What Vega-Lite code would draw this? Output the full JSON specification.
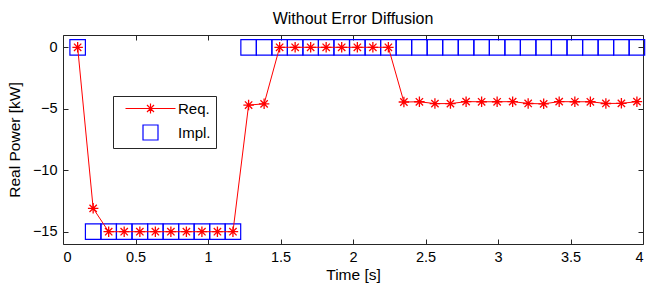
{
  "$schema": "https://vega.github.io/schema/vega-lite/v6.json",
  "width": 580,
  "height": 209,
  "autosize": {"type": "none"},
  "padding": {"left": 63, "top": 35, "right": 21, "bottom": 44},
  "background": "white",
  "title": {"text": "Without Error Diffusion", "font": "Liberation Sans", "fontSize": 16, "fontWeight": "normal", "color": "black", "anchor": "middle", "baseline": "alphabetic", "offset": -5},
  "data": {"values": [
    {"t": 0.101, "kW": 0, "series": "Req."},
    {"t": 0.208, "kW": -13.1, "series": "Req."},
    {"t": 0.315, "kW": -15, "series": "Req."},
    {"t": 0.422, "kW": -15, "series": "Req."},
    {"t": 0.530, "kW": -15, "series": "Req."},
    {"t": 0.637, "kW": -15, "series": "Req."},
    {"t": 0.744, "kW": -15, "series": "Req."},
    {"t": 0.851, "kW": -15, "series": "Req."},
    {"t": 0.958, "kW": -15, "series": "Req."},
    {"t": 1.065, "kW": -15, "series": "Req."},
    {"t": 1.172, "kW": -15, "series": "Req."},
    {"t": 1.280, "kW": -4.7, "series": "Req."},
    {"t": 1.387, "kW": -4.6, "series": "Req."},
    {"t": 1.494, "kW": 0, "series": "Req."},
    {"t": 1.601, "kW": 0, "series": "Req."},
    {"t": 1.708, "kW": 0, "series": "Req."},
    {"t": 1.815, "kW": 0, "series": "Req."},
    {"t": 1.922, "kW": 0, "series": "Req."},
    {"t": 2.030, "kW": 0, "series": "Req."},
    {"t": 2.137, "kW": 0, "series": "Req."},
    {"t": 2.244, "kW": 0, "series": "Req."},
    {"t": 2.351, "kW": -4.45, "series": "Req."},
    {"t": 2.458, "kW": -4.43, "series": "Req."},
    {"t": 2.565, "kW": -4.58, "series": "Req."},
    {"t": 2.672, "kW": -4.58, "series": "Req."},
    {"t": 2.780, "kW": -4.42, "series": "Req."},
    {"t": 2.887, "kW": -4.43, "series": "Req."},
    {"t": 2.994, "kW": -4.43, "series": "Req."},
    {"t": 3.101, "kW": -4.42, "series": "Req."},
    {"t": 3.208, "kW": -4.57, "series": "Req."},
    {"t": 3.315, "kW": -4.6, "series": "Req."},
    {"t": 3.422, "kW": -4.42, "series": "Req."},
    {"t": 3.530, "kW": -4.43, "series": "Req."},
    {"t": 3.637, "kW": -4.43, "series": "Req."},
    {"t": 3.744, "kW": -4.57, "series": "Req."},
    {"t": 3.851, "kW": -4.56, "series": "Req."},
    {"t": 3.958, "kW": -4.42, "series": "Req."},
    {"t": 0.101, "kW": 0, "series": "Impl."},
    {"t": 0.208, "kW": -15, "series": "Impl."},
    {"t": 0.315, "kW": -15, "series": "Impl."},
    {"t": 0.422, "kW": -15, "series": "Impl."},
    {"t": 0.530, "kW": -15, "series": "Impl."},
    {"t": 0.637, "kW": -15, "series": "Impl."},
    {"t": 0.744, "kW": -15, "series": "Impl."},
    {"t": 0.851, "kW": -15, "series": "Impl."},
    {"t": 0.958, "kW": -15, "series": "Impl."},
    {"t": 1.065, "kW": -15, "series": "Impl."},
    {"t": 1.172, "kW": -15, "series": "Impl."},
    {"t": 1.280, "kW": 0, "series": "Impl."},
    {"t": 1.387, "kW": 0, "series": "Impl."},
    {"t": 1.494, "kW": 0, "series": "Impl."},
    {"t": 1.601, "kW": 0, "series": "Impl."},
    {"t": 1.708, "kW": 0, "series": "Impl."},
    {"t": 1.815, "kW": 0, "series": "Impl."},
    {"t": 1.922, "kW": 0, "series": "Impl."},
    {"t": 2.030, "kW": 0, "series": "Impl."},
    {"t": 2.137, "kW": 0, "series": "Impl."},
    {"t": 2.244, "kW": 0, "series": "Impl."},
    {"t": 2.351, "kW": 0, "series": "Impl."},
    {"t": 2.458, "kW": 0, "series": "Impl."},
    {"t": 2.565, "kW": 0, "series": "Impl."},
    {"t": 2.672, "kW": 0, "series": "Impl."},
    {"t": 2.780, "kW": 0, "series": "Impl."},
    {"t": 2.887, "kW": 0, "series": "Impl."},
    {"t": 2.994, "kW": 0, "series": "Impl."},
    {"t": 3.101, "kW": 0, "series": "Impl."},
    {"t": 3.208, "kW": 0, "series": "Impl."},
    {"t": 3.315, "kW": 0, "series": "Impl."},
    {"t": 3.422, "kW": 0, "series": "Impl."},
    {"t": 3.530, "kW": 0, "series": "Impl."},
    {"t": 3.637, "kW": 0, "series": "Impl."},
    {"t": 3.744, "kW": 0, "series": "Impl."},
    {"t": 3.851, "kW": 0, "series": "Impl."},
    {"t": 3.958, "kW": 0, "series": "Impl."}
  ]},
  "layer": [
    {
      "transform": [{"filter": "datum.series === 'Impl.'"}],
      "mark": {"type": "point", "shape": "square", "filled": false, "size": 240, "strokeWidth": 1.2, "opacity": 1},
      "encoding": {
        "x": {"field": "t", "type": "quantitative", "scale": {"domain": [0, 4], "nice": false, "zero": false},
              "axis": {"orient": "bottom", "values": [0, 0.5, 1, 1.5, 2, 2.5, 3, 3.5, 4], "format": "~g", "title": "Time [s]", "titlePadding": 4}},
        "y": {"field": "kW", "type": "quantitative", "scale": {"domain": [-16, 1], "nice": false, "zero": false},
              "axis": {"orient": "left", "values": [0, -5, -10, -15], "title": "Real Power [kW]", "titlePadding": 10}},
        "color": {"field": "series", "type": "nominal",
                  "scale": {"domain": ["Req.", "Impl."], "range": ["#ff0000", "#0000ff"]},
                  "legend": {"orient": "none", "legendX": 50, "legendY": 61, "title": null,
                             "strokeColor": "#262626", "fillColor": "white", "padding": 5, "cornerRadius": 0,
                             "labelFont": "Liberation Sans", "labelFontSize": 15, "labelColor": "black",
                             "labelExpr": "datum.label + '\u00a0\u00a0'",
                             "symbolSize": 100, "symbolOpacity": 1, "symbolStrokeWidth": 1.2, "symbolFillColor": "transparent",
                             "symbolOffset": 25, "labelOffset": 20, "rowPadding": 5}}
      }
    },
    {
      "transform": [{"filter": "datum.series === 'Req.'"}],
      "mark": {"type": "line", "strokeWidth": 1},
      "encoding": {
        "x": {"field": "t", "type": "quantitative",
              "axis": {"orient": "top", "values": [0, 0.5, 1, 1.5, 2, 2.5, 3, 3.5, 4], "labels": false, "title": null}},
        "y": {"field": "kW", "type": "quantitative",
              "axis": {"orient": "right", "values": [0, -5, -10, -15], "labels": false, "title": null}},
        "color": {"field": "series", "type": "nominal"}
      }
    },
    {
      "transform": [{"filter": "datum.series === 'Req.'"}],
      "mark": {"type": "point", "shape": "M-1,0H1M0,-1V1M-0.7,-0.7L0.7,0.7M-0.7,0.7L0.7,-0.7", "filled": false, "size": 110, "strokeWidth": 1.3, "opacity": 1},
      "encoding": {
        "x": {"field": "t", "type": "quantitative", "axis": null},
        "y": {"field": "kW", "type": "quantitative", "axis": null},
        "color": {"field": "series", "type": "nominal"}
      }
    },
    {
      "mark": {"type": "point", "filled": false, "opacity": 0},
      "encoding": {
        "x": {"field": "t", "type": "quantitative", "axis": null},
        "y": {"field": "kW", "type": "quantitative", "axis": null},
        "color": {"field": "series", "type": "nominal"},
        "shape": {"field": "series", "type": "nominal",
                  "scale": {"domain": ["Req.", "Impl."], "range": ["M-5,0H5M-1,0H1M0,-1V1M-0.7,-0.7L0.7,0.7M-0.7,0.7L0.7,-0.7", "M-1.5,-1.5H1.5V1.5H-1.5Z"]},
                  "legend": {"orient": "none", "legendX": 50, "legendY": 61, "title": null,
                             "strokeColor": "#262626", "fillColor": "white", "padding": 5, "cornerRadius": 0,
                             "labelFont": "Liberation Sans", "labelFontSize": 15, "labelColor": "black",
                             "labelExpr": "datum.label + '\u00a0\u00a0'",
                             "symbolSize": 100, "symbolOpacity": 1, "symbolStrokeWidth": 1.2, "symbolFillColor": "transparent",
                             "symbolOffset": 25, "labelOffset": 20, "rowPadding": 5}}
      }
    }
  ],
  "resolve": {"axis": {"x": "independent", "y": "independent"}},
  "config": {
    "view": {"stroke": "#262626", "strokeWidth": 1},
    "axis": {
      "grid": false, "domain": false,
      "tickColor": "#262626", "tickSize": -5, "tickWidth": 1,
      "labelFont": "Liberation Sans", "labelFontSize": 14.5, "labelColor": "black", "labelPadding": 11,
      "titleFont": "Liberation Sans", "titleFontSize": 15.5, "titleFontWeight": "normal", "titleColor": "black"
    }
  }
}
